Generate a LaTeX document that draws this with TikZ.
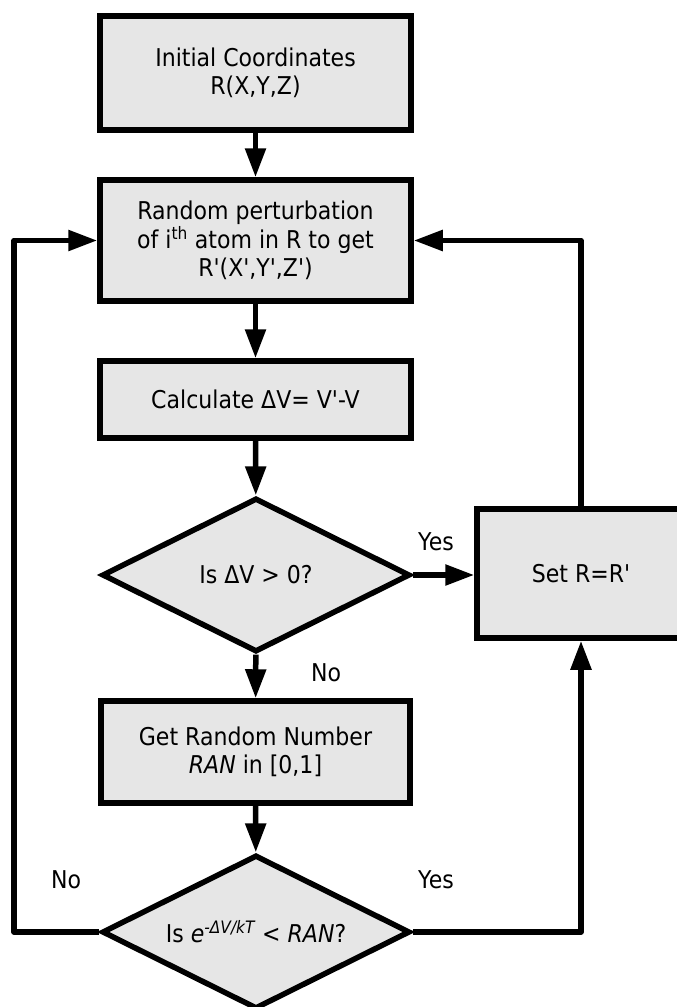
\documentclass[tikz,border=0pt]{standalone}
\usepackage{fontspec}
\newfontfamily\dv{DejaVu Sans}[FakeStretch=0.9]
\usetikzlibrary{shapes.geometric,arrows.meta}
\definecolor{boxfill}{HTML}{E6E6E6}
\begin{document}
\begin{tikzpicture}[x=1pt,y=-1pt,
  txt/.style={font=\dv\fontsize{24.5}{28.5}\selectfont, align=center},
  procbox/.style={txt, draw, line width=5.5pt, fill=boxfill, inner sep=0pt},
  decision/.style={txt, diamond, shape aspect=2, draw, line width=5.5pt, fill=boxfill, inner sep=0pt,
    minimum width=308pt, minimum height=154pt},
  conn/.style={line width=5.5pt, line join=round, -{Triangle[length=29pt,width=20pt]}},
  lbl/.style={txt, inner sep=0pt}]
\useasboundingbox (0,0) rectangle (677,1007);

\node[procbox, minimum width=311pt, minimum height=114pt] (init) at (255.5,73)
  {Initial Coordinates\\R(X,Y,Z)};
\node[procbox, minimum width=311pt, minimum height=121pt] (perturb) at (255.5,240.5)
  {Random perturbation\\of i\textsuperscript{th} atom in R to get\\R'(X',Y',Z')};
\node[procbox, minimum width=311pt, minimum height=77pt] (calc) at (255.5,399.5)
  {Calculate ΔV= V'-V};
\node[decision] (dec1) at (256,575) {Is ΔV > 0?};
\node[procbox, minimum width=208pt, minimum height=129pt] (setr) at (581,573.5)
  {Set R=R'};
\node[procbox, minimum width=309pt, minimum height=102pt] (getran) at (255.5,752)
  {Get Random Number\\{\itshape RAN} in [0,1]};
\node[decision] (dec2) at (256,932)
  {Is {\itshape e\textsuperscript{-ΔV/kT}} < {\itshape RAN}?};

\coordinate (lx) at (14,0);

\draw[conn] (init) -- (perturb);
\draw[conn] (perturb) -- (calc);
\draw[conn] (calc) -- (dec1);
\draw[conn] (dec1.east) -- (dec1.east -| setr.west);
\draw[conn] (dec1) -- (getran);
\draw[conn] (getran) -- (dec2);
\draw[conn] (dec2.west) -| (lx |- perturb.west) -- (perturb.west);
\draw[conn] (dec2.east) -| (setr.south);
\draw[conn] (setr.north) |- (perturb.east);

\node[lbl] (yes1) at (436,542) {Yes};
\node[lbl] (no1) at (326,673) {No};
\node[lbl] (no2) at (66,880) {No};
\node[lbl] (yes2) at (436,880) {Yes};
\end{tikzpicture}
\end{document}
